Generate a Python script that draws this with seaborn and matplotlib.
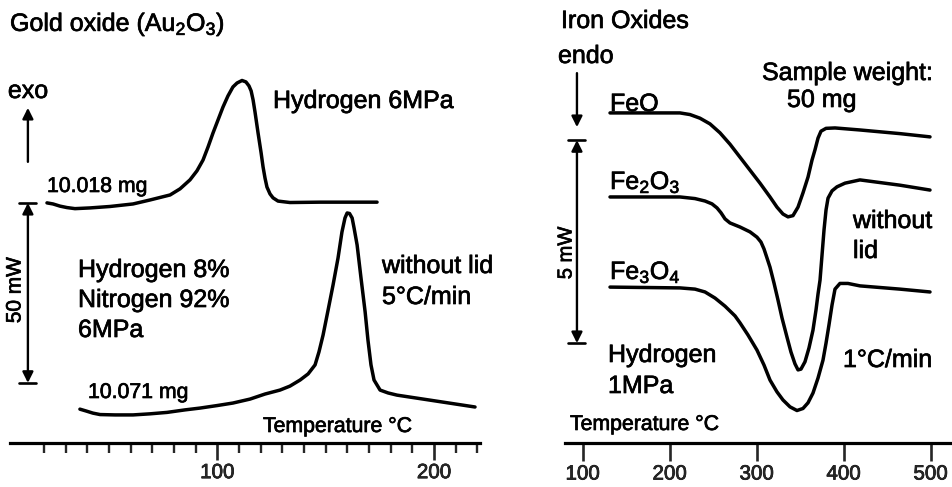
import matplotlib
matplotlib.use("Agg")
import matplotlib.pyplot as plt
import matplotlib.patheffects as pe
import seaborn as sns
import pandas as pd

# ---------------- data ----------------
# Gold oxide, Hydrogen 6 MPa  (temperature degC, heat flow mW, offset)
au_h2_temp = [21.4, 24.2, 27.4, 30.6, 34.3, 41.3, 50.5, 61.1, 68.9, 78.2, 82.8, 87.4,
              90.6, 93.4, 95.7, 98.0, 100.3, 102.6, 104.9, 107.2, 109.1, 111.4, 113.2,
              114.6, 115.6, 116.5, 117.4, 118.8, 120.2, 121.1, 122.0, 122.9, 124.3,
              125.7, 128.0, 133.5, 147.4, 173.7]
au_h2_heat = [66.7, 66.4, 65.8, 65.4, 65.1, 65.3, 65.7, 66.4, 67.5, 68.9, 70.6, 73.1,
              75.6, 78.6, 82.2, 86.1, 89.7, 93.3, 96.4, 98.9, 100.0, 100.7, 100.3,
              99.2, 97.8, 95.3, 91.9, 86.1, 80.6, 76.7, 73.6, 71.1, 69.2,
              68.1, 67.2, 66.8, 66.9, 66.9]

# Gold oxide, Hydrogen 8 % / Nitrogen 92 %, 6 MPa
au_mix_temp = [36.6, 39.4, 42.6, 45.9, 52.8, 61.1, 68.9, 76.8, 85.1, 92.0, 99.9, 107.2,
               115.1, 122.0, 128.9, 133.5, 138.2, 141.9, 145.1, 146.9, 148.8, 151.1,
               153.4, 155.7, 157.5, 158.9, 159.9, 161.0, 162.2, 163.1, 164.5, 166.3,
               168.2, 169.5, 170.9, 172.3, 175.1, 178.8, 182.9, 198.2, 218.9]
au_mix_heat = [9.4, 8.9, 8.3, 7.9, 7.8, 7.8, 8.1, 8.5, 9.2, 9.7, 10.4, 11.1,
               12.2, 13.6, 14.7, 15.8, 17.5, 19.2, 21.7, 25.3, 30.0, 36.9,
               43.9, 51.4, 58.6, 62.5, 63.9, 63.75, 62.5, 59.7, 55.0, 45.8,
               36.4, 28.6, 21.7, 17.5, 14.7, 13.9, 13.3, 11.9, 10.0]

# Iron oxides, Hydrogen 1 MPa, 1 degC/min
feo_temp = [131.4, 211.8, 223.3, 234.8, 246.3, 257.8, 269.3, 280.8, 292.3, 303.8, 315.3,
            323.3, 330.2, 336.0, 341.7, 347.5, 353.2, 359.0, 363.6, 367.0, 370.5, 373.9,
            379.7, 390.0, 418.7, 464.7, 499.2]
feo_heat = [8.13, 8.13, 8.09, 8.00, 7.86, 7.64, 7.36, 7.04, 6.72, 6.40, 6.06,
            5.81, 5.64, 5.57, 5.60, 5.81, 6.16, 6.55, 6.97, 7.22, 7.51, 7.68,
            7.75, 7.76, 7.71, 7.62, 7.54]

fe2o3_temp = [131.4, 211.8, 229.1, 240.6, 248.6, 254.4, 259.0, 263.6, 269.3, 280.8, 292.3,
              300.3, 304.9, 308.4, 311.8, 315.3, 319.9, 324.5, 329.1, 334.8, 339.4, 344.0,
              347.5, 350.9, 355.5, 360.1, 364.7, 368.2, 370.5, 372.8, 375.1, 377.4, 379.7,
              382.0, 386.6, 392.3, 401.5, 418.7, 464.7, 499.2]
fe2o3_heat = [6.06, 6.06, 6.02, 5.96, 5.89, 5.79, 5.67, 5.52, 5.42, 5.32, 5.20,
              5.07, 4.95, 4.78, 4.56, 4.33, 3.94, 3.52, 3.08, 2.61, 2.24, 1.95,
              1.80, 1.82, 2.00, 2.34, 2.78, 3.28, 3.67, 4.01, 4.63, 5.25, 5.74,
              6.03, 6.21, 6.31, 6.40, 6.48, 6.35, 6.23]

fe3o4_temp = [131.4, 211.8, 229.1, 240.6, 252.1, 263.6, 275.1, 280.8, 290.0, 300.3, 308.4,
              315.3, 323.3, 330.2, 338.3, 346.3, 353.2, 359.0, 364.7, 370.5, 376.2, 379.7,
              383.1, 386.6, 390.0, 395.7, 404.9, 418.7, 464.7, 499.2]
fe3o4_heat = [3.84, 3.82, 3.79, 3.72, 3.57, 3.37, 3.13, 2.96, 2.66, 2.29, 1.92,
              1.55, 1.26, 1.06, 0.89, 0.80, 0.85, 0.99, 1.23, 1.60, 2.04, 2.46,
              2.91, 3.40, 3.79, 3.93, 3.93, 3.87, 3.79, 3.72]

left_major_ticks = [100, 200]
left_minor_ticks = list(range(20, 230, 10))
right_ticks = [100, 200, 300, 400, 500]

# ---------------- style ----------------
sns.set_style("white")
plt.rcParams["font.family"] = ["Liberation Sans", "DejaVu Sans"]
plt.rcParams["mathtext.fontset"] = "custom"
plt.rcParams["mathtext.rm"] = "Liberation Sans"
plt.rcParams["mathtext.it"] = "Liberation Sans:italic"
plt.rcParams["mathtext.bf"] = "Liberation Sans:bold"

W, H = 952, 487
fig = plt.figure(figsize=(W / 100, H / 100), dpi=100)
fig.patch.set_facecolor("white")


def P(x, y):
    return x / W, 1 - y / H


BIG = 18
MED = 15.3
LW = 2.5
STROKE = [pe.withStroke(linewidth=0.5, foreground="black")]

axL = fig.add_axes([10 / W, 1 - 443 / H, 470 / W, 443 / H])
axR = fig.add_axes([565 / W, 1 - 443 / H, 385 / W, 443 / H])
axL.set_xlim(4.34, 221.2)
axL.set_ylim(0, 443 / 3.6)
axR.set_xlim(79.66, 522.2)
axR.set_ylim(0, 443 / 40.6)

for ax in (axL, axR):
    ax.patch.set_alpha(0)
    for s in ("left", "right", "top"):
        ax.spines[s].set_visible(False)
    ax.spines["bottom"].set_linewidth(2.3)
    ax.spines["bottom"].set_color("black")
    ax.set_yticks([])

curves_L = [(au_h2_temp, au_h2_heat), (au_mix_temp, au_mix_heat)]
curves_R = [(feo_temp, feo_heat), (fe2o3_temp, fe2o3_heat), (fe3o4_temp, fe3o4_heat)]
for ax, curves in ((axL, curves_L), (axR, curves_R)):
    for t, q in curves:
        df = pd.DataFrame({"T": t, "Q": q})
        sns.lineplot(data=df, x="T", y="Q", sort=False, estimator=None, ax=ax,
                     color="black", lw=LW, solid_joinstyle="round",
                     solid_capstyle="round")
    ax.set_xlabel("")
    ax.set_ylabel("")

# ticks
axL.set_xticks(left_major_ticks)
axL.set_xticklabels([str(v) for v in left_major_ticks])
axL.set_xticks(left_minor_ticks, minor=True)
axL.tick_params(axis="x", which="major", direction="out", length=12, width=1.9,
                labelsize=14.8, pad=2.5, bottom=True)
axL.tick_params(axis="x", which="minor", direction="out", length=7, width=1.7,
                bottom=True)
axR.set_xticks(right_ticks)
axR.set_xticklabels([str(v) for v in right_ticks])
axR.tick_params(axis="x", which="major", direction="out", length=13, width=1.9,
                labelsize=14.8, pad=2.5, bottom=True)
for ax in (axL, axR):
    for lab in ax.get_xticklabels():
        lab.set_path_effects(STROKE)


# scale bars and exo/endo arrows (data coords)
def scale_bar(ax, x, y0, y1, half):
    ax.annotate("", xy=(x, y0), xytext=(x, y1),
                arrowprops=dict(arrowstyle="<|-|>", color="black", lw=1.7,
                                mutation_scale=16, shrinkA=0, shrinkB=0))
    ax.plot([x - half, x + half], [y0, y0], color="black", lw=1.9)
    ax.plot([x - half, x + half], [y1, y1], color="black", lw=1.9)


scale_bar(axL, 12.6, 16.7, 66.7, 3.9)
scale_bar(axR, 93.4, 2.46, 7.46, 9.8)
axL.annotate("", xy=(12.6, 93.1), xytext=(12.6, 78.1),
             arrowprops=dict(arrowstyle="-|>", color="black", lw=1.7,
                             mutation_scale=16, shrinkA=0, shrinkB=0))
axR.annotate("", xy=(93.4, 7.78), xytext=(93.4, 9.11),
             arrowprops=dict(arrowstyle="-|>", color="black", lw=1.7,
                             mutation_scale=16, shrinkA=0, shrinkB=0))


# texts
def txt(x, y, s, size=BIG, ha="left", va="baseline", **kw):
    fig.text(*P(x, y), s, fontsize=size, ha=ha, va=va, color="black",
             path_effects=STROKE, **kw)


txt(10, 31, r"Gold oxide (Au$_\mathregular{2}$O$_\mathregular{3}$)")
txt(28, 98, "exo", ha="center")
txt(273, 108, "Hydrogen 6MPa")
txt(47, 192, "10.018 mg", size=MED)
txt(78, 277, "Hydrogen 8%")
txt(78, 307, "Nitrogen 92%")
txt(78, 337, "6MPa")
txt(382, 273, "without lid")
txt(382, 304, "5°C/min")
txt(88, 398, "10.071 mg", size=MED)
txt(263, 432, "Temperature °C", size=MED)
txt(15, 290, "50 mW", size=15, ha="center", va="center", rotation=90)

txt(561, 28, "Iron Oxides")
txt(558, 63, "endo")
txt(762, 80, "Sample weight:")
txt(787, 107, "50 mg")
txt(610, 111, "FeO")
txt(610, 189, r"Fe$_\mathregular{2}$O$_\mathregular{3}$")
txt(610, 279, r"Fe$_\mathregular{3}$O$_\mathregular{4}$")
txt(853, 228, "without")
txt(853, 258, "lid")
txt(608, 362, "Hydrogen")
txt(608, 393, "1MPa")
txt(843, 367, "1°C/min")
txt(570, 430, "Temperature °C", size=MED)
txt(566, 253, "5 mW", size=14.5, ha="center", va="center", rotation=90)

fig.savefig("out.png", dpi=100, facecolor="white")
